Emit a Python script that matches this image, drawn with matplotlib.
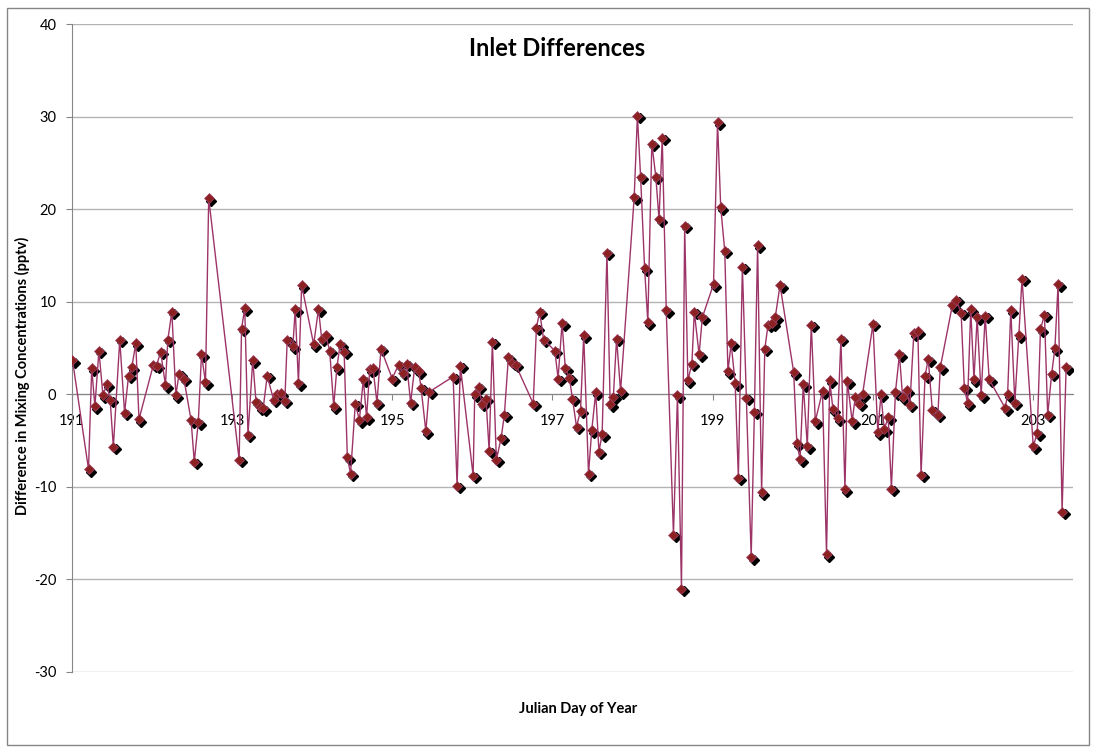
import matplotlib.pyplot as plt
import matplotlib as mpl
import matplotlib.transforms as mtransforms
import numpy as np

mpl.rcParams['font.family'] = ['Lato', 'DejaVu Sans']
mpl.rcParams['axes.unicode_minus'] = False

# Julian day and inlet difference (pptv)
days = [191.01, 191.21, 191.25, 191.29, 191.34, 191.39, 191.44, 191.48, 191.52, 191.60, 191.66, 191.71, 191.75, 191.80, 191.84,
        192.02, 192.06, 192.11, 192.17, 192.20, 192.25, 192.30, 192.34, 192.40, 192.49, 192.53, 192.58, 192.62, 192.67, 192.71,
        193.09, 193.12, 193.16, 193.20, 193.26, 193.30, 193.35, 193.39, 193.44, 193.52, 193.56, 193.61, 193.66, 193.69, 193.76, 193.79, 193.83, 193.87,
        194.02, 194.08, 194.12, 194.17, 194.22, 194.27, 194.31, 194.35, 194.40, 194.44, 194.48, 194.54, 194.59, 194.64, 194.68, 194.72, 194.76, 194.81, 194.86,
        195.00, 195.08, 195.13, 195.18, 195.23, 195.28, 195.33, 195.36, 195.42, 195.46, 195.76, 195.81, 195.85,
        196.01, 196.03, 196.08, 196.12, 196.17, 196.21, 196.25, 196.30, 196.36, 196.40, 196.45, 196.50, 196.54, 196.76, 196.80, 196.84, 196.89,
        197.03, 197.07, 197.12, 197.16, 197.21, 197.25, 197.30, 197.35, 197.39, 197.45, 197.49, 197.54, 197.58, 197.62, 197.68, 197.72, 197.76, 197.80, 197.85,
        198.02, 198.06, 198.10, 198.15, 198.19, 198.24, 198.29, 198.33, 198.37, 198.42, 198.51, 198.56, 198.61, 198.65, 198.69, 198.74, 198.77, 198.83, 198.87,
        199.01, 199.06, 199.10, 199.15, 199.19, 199.23, 199.28, 199.32, 199.37, 199.42, 199.48, 199.52, 199.56, 199.61, 199.65, 199.69, 199.74, 199.78, 199.84,
        200.01, 200.05, 200.09, 200.13, 200.18, 200.23, 200.28, 200.37, 200.42, 200.46, 200.50, 200.56, 200.60, 200.65, 200.68, 200.74, 200.78, 200.83, 200.87,
        201.00, 201.06, 201.10, 201.14, 201.19, 201.23, 201.28, 201.33, 201.37, 201.42, 201.46, 201.51, 201.56, 201.60, 201.65, 201.69, 201.74, 201.81, 201.84,
        201.99, 202.04, 202.10, 202.14, 202.18, 202.22, 202.26, 202.30, 202.35, 202.40, 202.45, 202.65, 202.68, 202.72, 202.77, 202.82, 202.86,
        203.00, 203.05, 203.09, 203.14, 203.18, 203.23, 203.27, 203.31, 203.36, 203.41]

diff = [3.7, -8.1, 2.8, -1.3, 4.7, -0.1, 1.1, -0.6, -5.7, 5.9, -2.0, 2.0, 2.9, 5.5, -2.7,
        3.2, 3.1, 4.6, 1.0, 5.9, 8.9, -0.1, 2.2, 1.7, -2.8, -7.3, -3.0, 4.3, 1.3, 21.2,
        -7.1, 7.1, 9.3, -4.4, 3.7, -0.8, -1.4, -1.5, 2.0, -0.6, 0.0, 0.1, -0.7, 5.9, 5.2, 9.2, 1.2, 11.8,
        5.4, 9.2, 6.0, 6.4, 4.7, -1.3, 2.9, 5.4, 4.6, -6.8, -8.6, -1.0, -2.8, 1.6, -2.5, 2.7, 2.8, -0.9, 4.9,
        1.7, 3.2, 2.3, 3.3, -0.9, 2.9, 2.5, 0.7, -4.0, 0.25, 1.9, -9.9, 3.1,
        -8.8, 0.0, 0.8, -1.0, -0.5, -6.1, 5.7, -7.1, -4.7, -2.2, 4.0, 3.4, 3.2, -1.0, 7.2, 8.9, 5.9,
        4.7, 1.7, 7.7, 2.8, 1.8, -0.5, -3.5, -1.8, 6.4, -8.6, -3.9, 0.2, -6.2, -4.3, 15.3, -1.1, -0.25, 6.0, 0.35,
        21.3, 30.1, 23.5, 13.6, 7.8, 27.1, 23.5, 18.9, 27.7, 9.1, -15.2, -0.1, -21.0, 18.2, 1.5, 3.3, 8.9, 4.3, 8.3,
        11.9, 29.4, 20.2, 15.5, 2.5, 5.5, 1.2, -9.0, 13.8, -0.4, -17.6, -1.9, 16.1, -10.6, 4.9, 7.5, 7.7, 8.3, 11.8,
        2.4, -5.3, -7.0, 1.1, -5.6, 7.5, -2.9, 0.3, -17.3, 1.5, -1.6, -2.6, 6.0, -10.25, 1.4, -2.9, -0.25, -1.0, 0.0,
        7.6, -4.1, 0.0, -3.8, -2.5, -10.2, 0.2, 4.3, -0.35, 0.45, -1.15, 6.6, 6.8, -8.7, 2.0, 3.8, -1.7, -2.2, 2.9,
        9.6, 10.2, 8.8, 0.7, -0.95, 9.2, 1.6, 8.3, -0.1, 8.5, 1.6, -1.5, 0.0, 9.1, -0.9, 6.4, 12.5,
        -5.6, -4.2, 7.0, 8.6, -2.2, 2.2, 4.95, 11.9, -12.7, 2.9]

x_ticks = [191, 193, 195, 197, 199, 201, 203]
y_ticks = [-30, -20, -10, 0, 10, 20, 30, 40]

fig = plt.figure(figsize=(10.96, 7.53), dpi=100)
ax = fig.add_axes([0.0654, 0.1078, 0.9139, 0.8601])

# chart border
fig.patches.append(plt.Rectangle((7 / 1096, 8 / 753), 1082 / 1096, 737 / 753, transform=fig.transFigure,
                                 fill=False, edgecolor='#868686', linewidth=1))

shadow = mtransforms.offset_copy(ax.transData, fig=fig, x=2.5, y=-2.5, units='dots')
ax.plot(days, diff, linestyle='none', marker='D', markersize=4.8, color='black', transform=shadow, zorder=3)
ax.plot(days, diff, color='#9c3468', linewidth=1.0, zorder=4)
ax.plot(days, diff, linestyle='none', marker='D', markersize=4.8, markerfacecolor='#8b2121',
        markeredgecolor='#a0456a', markeredgewidth=0.5, zorder=5)

ax.set_xlim(191, 203.5)
ax.set_ylim(-30, 40)
ax.set_xticks(x_ticks)
ax.set_yticks(y_ticks)
ax.yaxis.grid(True, color='#b3b3b3', linewidth=1.0)
ax.set_axisbelow(True)

ax.spines['top'].set_visible(False)
ax.spines['right'].set_visible(False)
ax.spines['bottom'].set_position(('data', 0))
ax.spines['bottom'].set_color('#868686')
ax.spines['left'].set_color('#868686')
ax.tick_params(axis='x', direction='out', length=4, color='#868686', labelsize=10.5, pad=10)
ax.tick_params(axis='y', direction='out', length=4, color='#868686', labelsize=10.5, pad=7)

fig.text(557 / 1096, 1 - 48 / 753, 'Inlet Differences', ha='center', va='center',
         fontsize=17, fontweight='bold')
fig.text(578 / 1096, 1 - 709 / 753, 'Julian Day of Year', ha='center', va='center',
         fontsize=10.5, fontweight='bold')
fig.text(22 / 1096, 1 - 376 / 753, 'Difference in Mixing Concentrations (pptv)', ha='center', va='center',
         rotation=90, fontsize=10.5, fontweight='bold')

plt.savefig('out.png', dpi=100)
